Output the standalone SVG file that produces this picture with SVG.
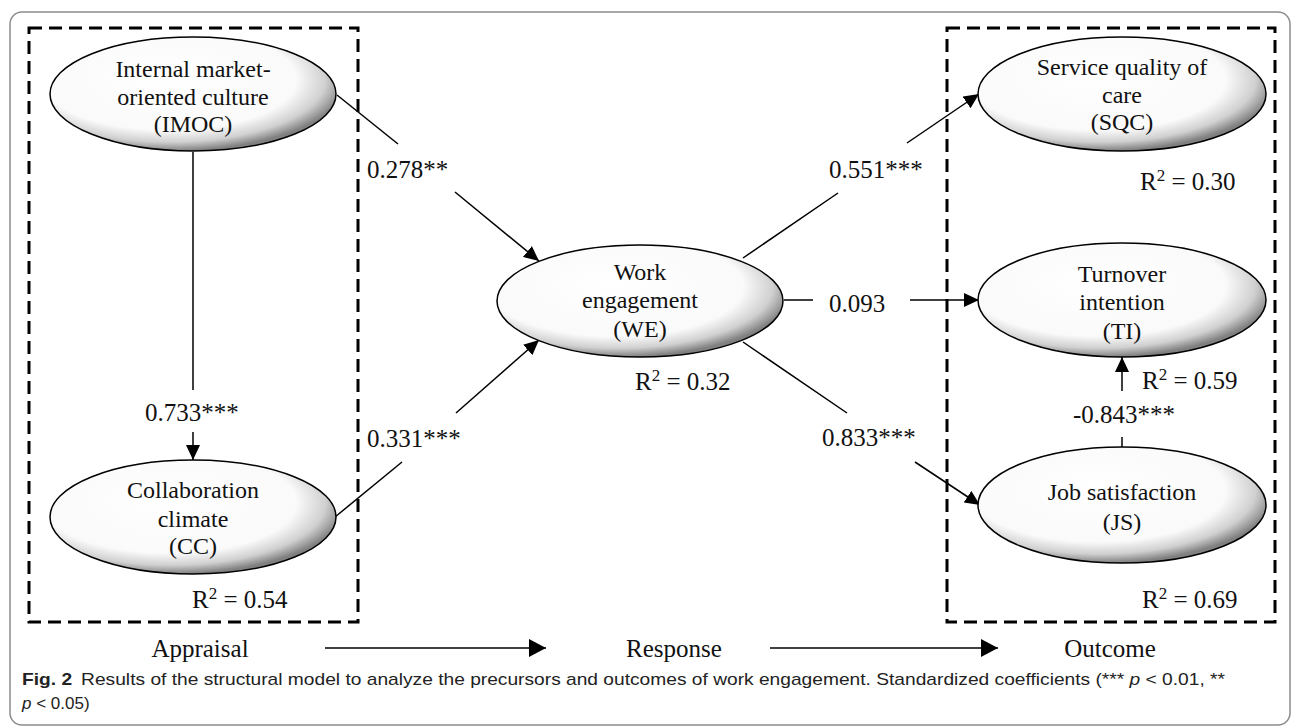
<svg xmlns="http://www.w3.org/2000/svg" width="1295" height="728" viewBox="0 0 1295 728">
<defs>
<radialGradient id="shade" cx="0.42" cy="0.38" r="0.62" fx="0.4" fy="0.35">
<stop offset="0" stop-color="#ffffff"/>
<stop offset="0.72" stop-color="#fafafa"/>
<stop offset="0.88" stop-color="#d0d0d0"/>
<stop offset="1" stop-color="#808080"/>
</radialGradient>
<marker id="arr" markerUnits="userSpaceOnUse" markerWidth="16" markerHeight="14" refX="15" refY="7" orient="auto">
<path d="M0,0 L15,7 L0,14 Z" fill="#000"/>
</marker>
<marker id="arrB" markerUnits="userSpaceOnUse" markerWidth="18" markerHeight="18" refX="17" refY="9" orient="auto">
<path d="M0,0 L17,9 L0,18 Z" fill="#000"/>
</marker>
</defs>
<style>
.node ellipse{fill:url(#shade);stroke:#000;stroke-width:1.5}
.nt{font-family:"Liberation Serif","Times New Roman",serif;font-size:24px;fill:#111;text-anchor:middle}
.lb{font-family:"Liberation Serif","Times New Roman",serif;font-size:25px;fill:#111}
.sup{font-size:17px}
.ln{stroke:#000;stroke-width:1.5;fill:none}
.dash{fill:none;stroke:#000;stroke-width:3;stroke-dasharray:13 7}
.cap{font-family:"Liberation Sans",Arial,sans-serif;font-size:17px;fill:#222}
</style>
<rect x="10" y="12" width="1280" height="713" rx="12" fill="#fff" stroke="#8c8c8c" stroke-width="1.5"/>
<rect class="dash" x="29" y="28" width="329" height="594"/>
<rect class="dash" x="947" y="28" width="328" height="594"/>
<g id="connectors">
<line class="ln" x1="193" y1="152" x2="193" y2="390"/>
<line class="ln" x1="193" y1="432" x2="193" y2="460" marker-end="url(#arr)"/>
<line class="ln" x1="337" y1="95" x2="398" y2="144"/>
<line class="ln" x1="455" y1="192" x2="539" y2="261" marker-end="url(#arr)"/>
<line class="ln" x1="335" y1="517" x2="402" y2="462"/>
<line class="ln" x1="456" y1="413" x2="539" y2="340" marker-end="url(#arr)"/>
<line class="ln" x1="743" y1="258" x2="838" y2="193"/>
<line class="ln" x1="907" y1="143" x2="979" y2="94" marker-end="url(#arr)"/>
<line class="ln" x1="784" y1="300" x2="813" y2="300"/>
<line class="ln" x1="910" y1="300" x2="979" y2="300" marker-end="url(#arr)"/>
<line class="ln" x1="743" y1="342" x2="847" y2="413"/>
<line class="ln" x1="915" y1="462" x2="980" y2="505" marker-end="url(#arr)"/>
<line class="ln" x1="1122" y1="447" x2="1122" y2="437"/>
<line class="ln" x1="1122" y1="391" x2="1122" y2="357" marker-end="url(#arr)"/>
<line class="ln" x1="325" y1="648" x2="546" y2="648" marker-end="url(#arrB)"/>
<line class="ln" x1="770" y1="648" x2="998" y2="648" marker-end="url(#arrB)"/>
</g>
<g id="IMOC" class="node">
<ellipse cx="193" cy="94" rx="143" ry="57"/>
<text class="nt" x="193" y="77">Internal market-</text>
<text class="nt" x="193" y="105">oriented culture</text>
<text class="nt" x="193" y="132">(IMOC)</text>
</g>
<g id="CC" class="node">
<ellipse cx="193" cy="517" rx="143" ry="57"/>
<text class="nt" x="193" y="498">Collaboration</text>
<text class="nt" x="193" y="527">climate</text>
<text class="nt" x="193" y="554">(CC)</text>
</g>
<g id="WE" class="node">
<ellipse cx="640" cy="301" rx="143" ry="56"/>
<text class="nt" x="640" y="280">Work</text>
<text class="nt" x="640" y="308">engagement</text>
<text class="nt" x="640" y="337">(WE)</text>
</g>
<g id="SQC" class="node">
<ellipse cx="1122" cy="94" rx="144" ry="57"/>
<text class="nt" x="1122" y="75">Service quality of</text>
<text class="nt" x="1122" y="103">care</text>
<text class="nt" x="1122" y="130">(SQC)</text>
</g>
<g id="TI" class="node">
<ellipse cx="1122" cy="300" rx="144" ry="57"/>
<text class="nt" x="1122" y="282">Turnover</text>
<text class="nt" x="1122" y="310">intention</text>
<text class="nt" x="1122" y="339">(TI)</text>
</g>
<g id="JS" class="node">
<ellipse cx="1122" cy="505" rx="144" ry="58"/>
<text class="nt" x="1122" y="500">Job satisfaction</text>
<text class="nt" x="1122" y="530">(JS)</text>
</g>
<g id="labels">
<text class="lb" x="367" y="178">0.278**</text>
<text class="lb" x="145" y="421">0.733***</text>
<text class="lb" x="367" y="447">0.331***</text>
<text class="lb" x="829" y="178">0.551***</text>
<text class="lb" x="829" y="312">0.093</text>
<text class="lb" x="822" y="446">0.833***</text>
<text class="lb" x="1073" y="423">-0.843***</text>
<text class="lb" x="192" y="608">R<tspan class="sup" dy="-9">2</tspan><tspan dy="9"> = 0.54</tspan></text>
<text class="lb" x="635" y="390">R<tspan class="sup" dy="-9">2</tspan><tspan dy="9"> = 0.32</tspan></text>
<text class="lb" x="1140" y="190">R<tspan class="sup" dy="-9">2</tspan><tspan dy="9"> = 0.30</tspan></text>
<text class="lb" x="1142" y="389">R<tspan class="sup" dy="-9">2</tspan><tspan dy="9"> = 0.59</tspan></text>
<text class="lb" x="1142" y="608">R<tspan class="sup" dy="-9">2</tspan><tspan dy="9"> = 0.69</tspan></text>
<text class="lb" x="200" y="657" text-anchor="middle">Appraisal</text>
<text class="lb" x="674" y="657" text-anchor="middle">Response</text>
<text class="lb" x="1110" y="657" text-anchor="middle">Outcome</text>
</g>
<g id="caption">
<text class="cap" x="22" y="685" textLength="1203" lengthAdjust="spacingAndGlyphs"><tspan font-weight="bold">Fig. 2</tspan><tspan dx="8">Results of the structural model to analyze the precursors and outcomes of work engagement. Standardized coefficients (*** </tspan><tspan font-style="italic">p</tspan> &lt; 0.01, **</text>
<text class="cap" x="22" y="709"><tspan font-style="italic">p</tspan> &lt; 0.05)</text>
</g>
</svg>
